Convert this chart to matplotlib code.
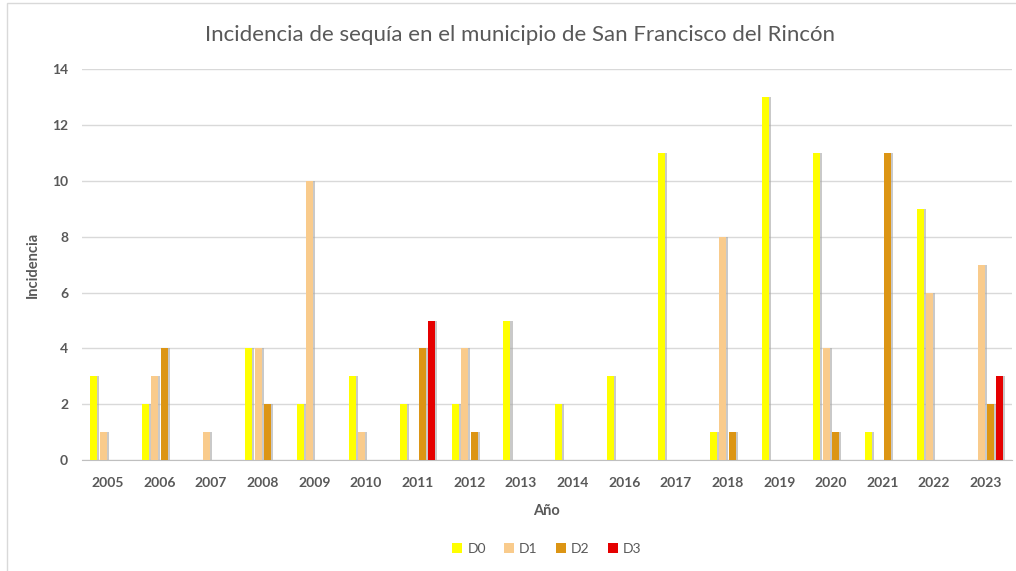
import numpy as np
import matplotlib.pyplot as plt
from matplotlib.patches import Rectangle

# data
years = ["2005", "2006", "2007", "2008", "2009", "2010", "2011", "2012", "2013",
         "2014", "2016", "2017", "2018", "2019", "2020", "2021", "2022", "2023"]
d0 = [3, 2, 0, 4, 2, 3, 2, 2, 5, 2, 3, 11, 1, 13, 11, 1, 9, 0]
d1 = [1, 3, 1, 4, 10, 1, 0, 4, 0, 0, 0, 0, 8, 0, 4, 0, 6, 7]
d2 = [0, 4, 0, 2, 0, 0, 4, 1, 0, 0, 0, 0, 1, 0, 1, 11, 0, 2]
d3 = [0, 0, 0, 0, 0, 0, 5, 0, 0, 0, 0, 0, 0, 0, 0, 0, 0, 3]

series = [("D0", d0, "#FFFF00"), ("D1", d1, "#F9CB8C"),
          ("D2", d2, "#DC9514"), ("D3", d3, "#E50000")]

plt.rcParams['font.family'] = ['Lato', 'DejaVu Sans']
txt = '#595959'

fig = plt.figure(figsize=(10.16, 5.71), dpi=100)
ax = fig.add_axes([0.0807, 0.194, 0.915, 0.685])

x = np.arange(len(years))
pitch = 0.181
width = 0.135
for i, (name, vals, col) in enumerate(series):
    pos = x + (i - 1.5) * pitch
    # soft shadow like the excel chart
    ax.bar(pos + 0.04, vals, width, color='#a6a6a6', alpha=0.6, zorder=2)
    ax.bar(pos, vals, width, color=col, label=name, zorder=3)

ax.set_xlim(-0.5, len(years) - 0.5)
ax.set_ylim(0, 14)
ax.set_yticks(range(0, 15, 2))
ax.set_xticks(x)
ax.set_xticklabels(years)
ax.tick_params(axis='both', length=0, colors=txt, labelsize=10)
ax.tick_params(axis='y', pad=10)
ax.tick_params(axis='x', pad=12)
for lab in ax.get_xticklabels() + ax.get_yticklabels():
    lab.set_fontweight('bold')

ax.grid(axis='y', color='#d9d9d9', linewidth=1, zorder=0)
for s in ['top', 'right', 'left']:
    ax.spines[s].set_visible(False)
ax.spines['bottom'].set_color('#bfbfbf')

ax.set_xlabel('Año', fontsize=10.5, fontweight='bold', color=txt, labelpad=11)
ax.set_ylabel('Incidencia', fontsize=10.5, fontweight='bold', color=txt, labelpad=9)

fig.text(0.512, 0.938, 'Incidencia de sequía en el municipio de San Francisco del Rincón',
         ha='center', va='center', fontsize=16, color=txt)

ax.legend(loc='upper center', bbox_to_anchor=(0.5, -0.18), ncol=4, frameon=False,
          fontsize=10, labelcolor=txt, handlelength=0.7, handleheight=0.7,
          handletextpad=0.4, columnspacing=1.3)

# chart area border
fig.patches.append(Rectangle((0.007, -0.1), 1.1, 1.095, transform=fig.transFigure,
                             fill=False, edgecolor='#d9d9d9', linewidth=1))

plt.savefig('out.png', dpi=100)
